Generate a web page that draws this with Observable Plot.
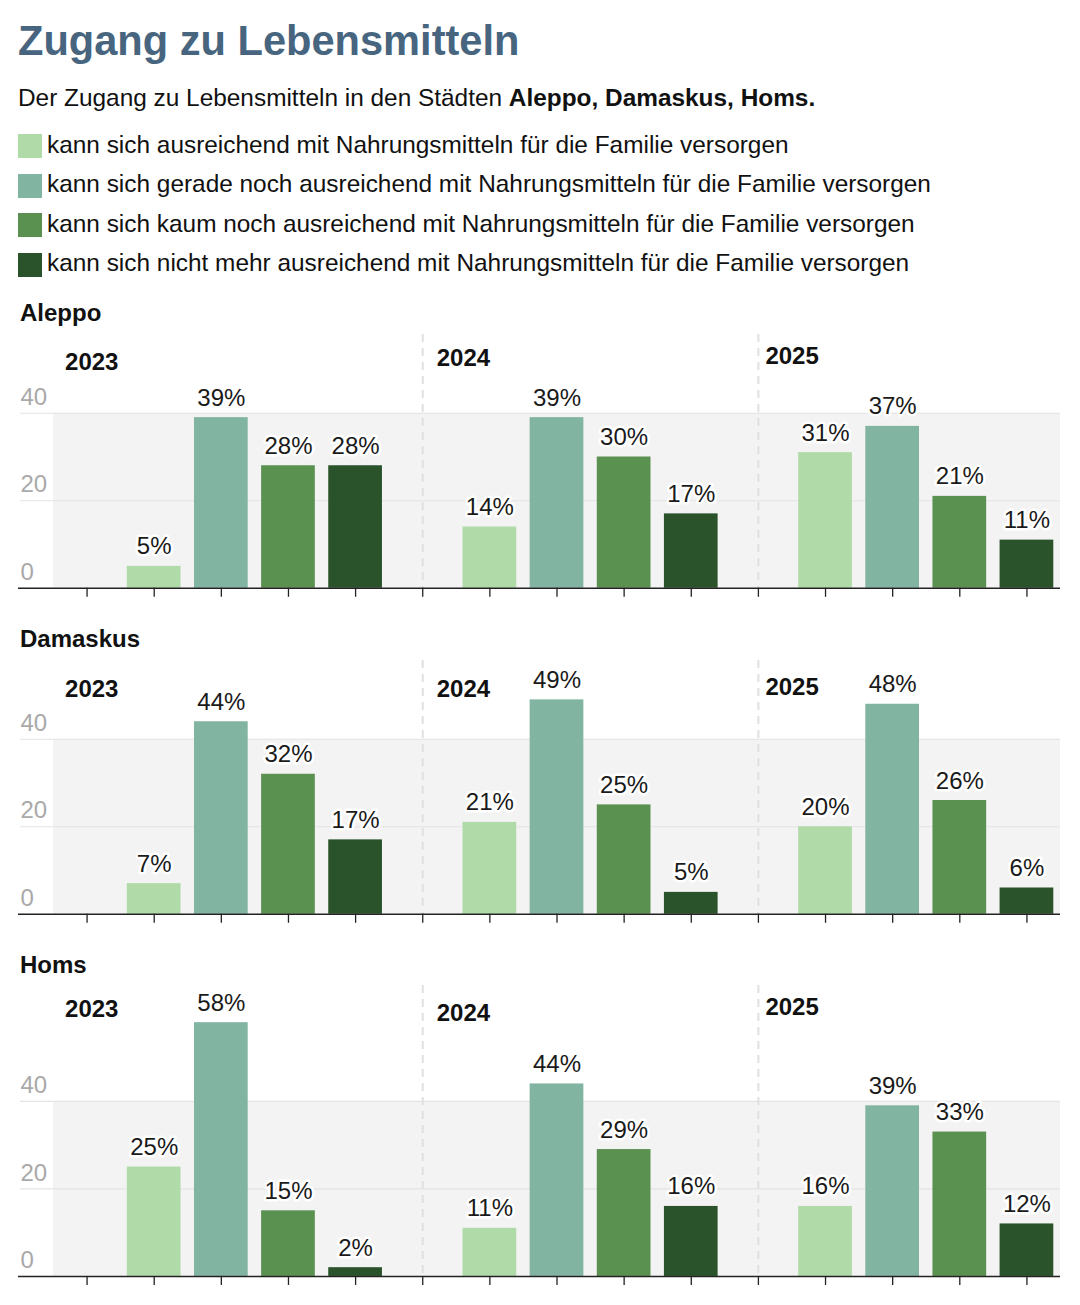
<!DOCTYPE html>
<html>
<head>
<meta charset="utf-8">
<script src="https://cdn.jsdelivr.net/npm/d3@7"></script>
<script src="https://cdn.jsdelivr.net/npm/@observablehq/plot@0.6"></script>
<style>
  html, body { margin: 0; padding: 0; background: #fff; }
  body { font-family: "Liberation Sans", Arial, sans-serif; color: #111; }
  #root { position: relative; width: 1080px; height: 1305px; overflow: hidden; }
  .abs { position: absolute; white-space: nowrap; }
  .title { left: 18px; top: 20px; font-size: 41.6px; line-height: 41.6px; font-weight: bold; color: #47657e; }
  .subtitle { left: 18px; top: 86.3px; font-size: 24.4px; line-height: 24.4px; color: #111; }
  .legend-sw { width: 24px; height: 24px; left: 18px; }
  .legend-tx { left: 47px; font-size: 24.4px; line-height: 24.4px; color: #111; }
  .city { left: 20px; font-size: 24px; line-height: 24px; font-weight: bold; color: #111; }
  svg { overflow: visible; }
</style>
</head>
<body>
<div id="root"></div>
<script>
// ---------- data ----------
const title = "Zugang zu Lebensmitteln";
const subtitleText = "Der Zugang zu Lebensmitteln in den Städten ";
const subtitleBold = "Aleppo, Damaskus, Homs.";
const categories = [
  "kann sich ausreichend mit Nahrungsmitteln für die Familie versorgen",
  "kann sich gerade noch ausreichend mit Nahrungsmitteln für die Familie versorgen",
  "kann sich kaum noch ausreichend mit Nahrungsmitteln für die Familie versorgen",
  "kann sich nicht mehr ausreichend mit Nahrungsmitteln für die Familie versorgen"
];
const colors = ["#b0dba9", "#82b4a2", "#5b9150", "#2a522b"];
const years = ["2023", "2024", "2025"];
const cities = ["Aleppo", "Damaskus", "Homs"];
// values per year (rows) and category (columns), in %
const aleppo   = [[5, 39, 28, 28], [14, 39, 30, 17], [31, 37, 21, 11]];
const damaskus = [[7, 44, 32, 17], [21, 49, 25, 5],  [20, 48, 26, 6]];
const homs     = [[25, 58, 15, 2], [11, 44, 29, 16], [16, 39, 33, 12]];
const cityValues = [aleppo, damaskus, homs];
const yTicks = [0, 20, 40];

// ---------- layout (pixels) ----------
const pxPerUnit = 4.375;
const yMax = [58, 58, 66.5];
const baselines = [588, 914, 1276];
const cityTitleTop = [300.5, 626.5, 952.5];
const yearDy = [[28, 24, 22], [29, 29, 27], [24, 28, 22]];
const yearDx = [-22, 14, 7];
const marginTop = 5, marginBottom = 14;

const root = document.getElementById("root");
function addDiv(cls, style) {
  const d = document.createElement("div");
  d.className = "abs " + cls;
  Object.assign(d.style, style || {});
  root.appendChild(d);
  return d;
}
addDiv("title").textContent = title;
const sub = addDiv("subtitle");
sub.textContent = subtitleText;
const b = document.createElement("b"); b.textContent = subtitleBold; sub.appendChild(b);

categories.forEach((c, i) => {
  addDiv("legend-sw", {top: (134.3 + i * 39.4) + "px", background: colors[i]});
  addDiv("legend-tx", {top: (132.7 + i * 39.4) + "px"}).textContent = c;
});

// slot domain: for each year one blank slot + 4 category slots
const slots = [];
years.forEach(y => { slots.push(y + "|"); categories.forEach((c, k) => slots.push(y + "|" + k)); });

cities.forEach((city, ci) => {
  addDiv("city", {top: cityTitleTop[ci] + "px"}).textContent = city;

  const data = [];
  years.forEach((y, yi) => categories.forEach((c, k) => data.push({
    slot: y + "|" + k, year: y, category: c, value: cityValues[ci][yi][k]
  })));

  const plotH = yMax[ci] * pxPerUnit;
  const svgTop = baselines[ci] - plotH - marginTop;
  const height = marginTop + plotH + marginBottom;

  const fig = Plot.plot({
    width: 1080,
    height,
    marginLeft: 53,
    marginRight: 20,
    marginTop,
    marginBottom,
    x: {type: "band", domain: slots, paddingInner: 0.2, paddingOuter: 0.1, round: false, axis: null},
    y: {domain: [0, yMax[ci]], axis: null},
    color: {domain: categories, range: colors},
    style: {fontFamily: "'Liberation Sans', Arial, sans-serif", fontSize: "24px", background: "transparent", overflow: "visible"},
    marks: [
      Plot.rect([{y1: 0, y2: d3.max(yTicks)}], {y1: "y1", y2: "y2", fill: "#f3f3f3"}),
      Plot.ruleY(yTicks.filter(t => t > 0), {stroke: "#e3e3e3", strokeWidth: 1.2, insetLeft: -33}),
      Plot.ruleX(years.slice(1).map(y => y + "|"), {stroke: "#e0e0e0", strokeWidth: 2, strokeDasharray: "8,6"}),
      Plot.barY(data, {x: "slot", y: "value", fill: "category"}),
      Plot.text(data, {
        x: "slot", y: "value", text: d => d.value + "%", lineAnchor: "bottom", dy: -12,
        fill: "#1a1a1a", stroke: "white", strokeWidth: 5, fontSize: 24
      }),
      Plot.ruleY([0], {stroke: "#222", strokeWidth: 1.5, insetLeft: -35}),
      Plot.axisX({tickSize: 9, tickFormat: () => "", label: null, stroke: "#222", strokeWidth: 1.3}),
      Plot.axisY(yTicks, {
        anchor: "left", tickSize: 0, tickPadding: 0, textAnchor: "start", dx: -33, dy: -16,
        fill: "#a9a9a9", fontSize: 24, label: null
      }),
      ...years.map((y, yi) => Plot.text([y], {
        x: d => d + "|", text: d => d, frameAnchor: "top", lineAnchor: "middle",
        dy: yearDy[ci][yi], dx: yearDx[yi], textAnchor: "start",
        fontWeight: "bold", fontSize: 24, fill: "#111"
      }))
    ]
  });
  fig.style.position = "absolute";
  fig.style.left = "0px";
  fig.style.top = svgTop + "px";
  root.appendChild(fig);
});
</script>
</body>
</html>
